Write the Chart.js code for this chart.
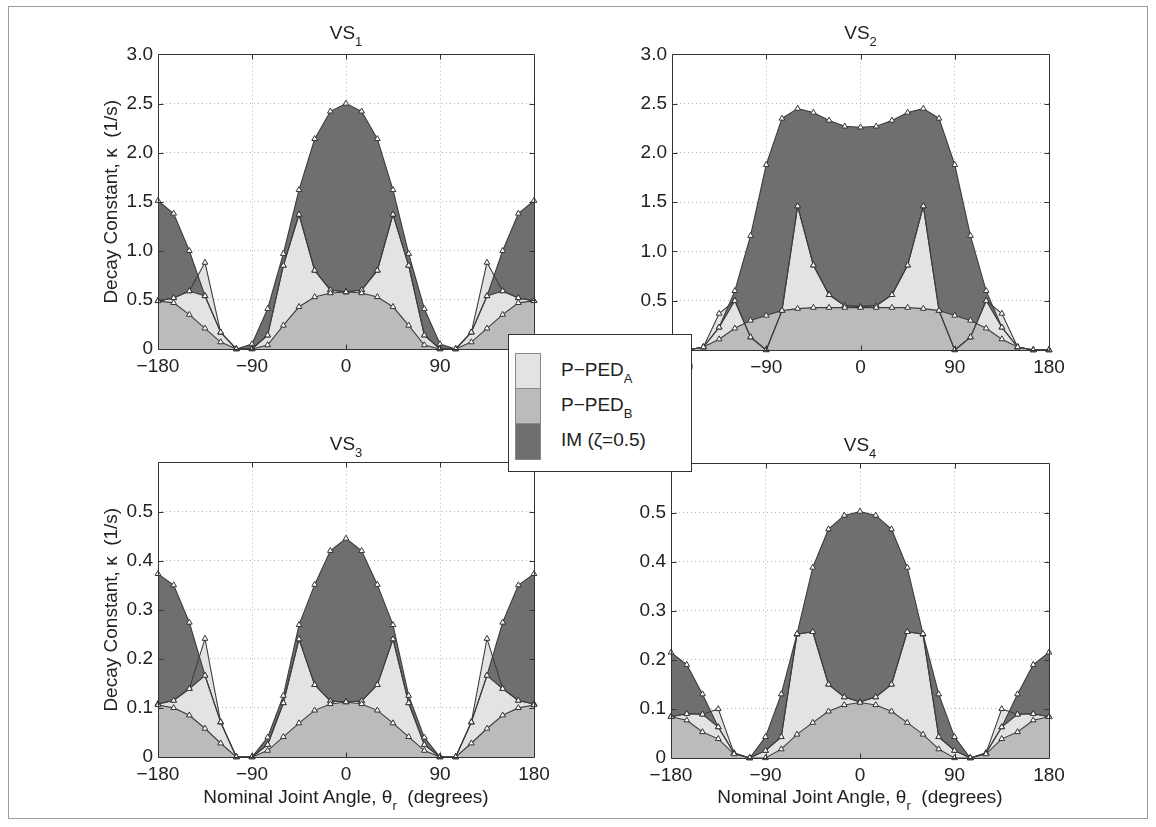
<!DOCTYPE html>
<html>
<head>
<meta charset="utf-8">
<script src="https://cdn.jsdelivr.net/npm/chart.js@4.4.1/dist/chart.umd.min.js"></script>
<style>
  html, body { margin:0; padding:0; background:#fff; }
  body { width:1156px; height:827px; position:relative; overflow:hidden;
         font-family:"Liberation Sans", Arial, Helvetica, sans-serif; color:#222; }
  canvas { position:absolute; }
  .frame { position:absolute; left:8px; top:6px; width:1138px; height:811px; border:1px solid #9c9c9c; }
  .ttl { position:absolute; text-align:center; font-size:19px; line-height:22px; white-space:nowrap; }
  .ttl sub { font-size:13px; vertical-align:-7px; line-height:0; }
  #legend { position:absolute; left:508px; top:334px; width:182px; height:136px;
            border:1px solid #333; background:#fff; z-index:10; }
  .lg-row { position:absolute; left:6px; height:36px; width:170px; }
  .lg-sw { position:absolute; left:0; top:0; width:24px; height:35px; border:1px solid #888; }
  .lg-tx { position:absolute; left:46px; top:6px; font-size:19px; line-height:22px; white-space:nowrap; }
  .lg-tx sub { font-size:13px; vertical-align:-7px; line-height:0; }
</style>
</head>
<body>
<div class="frame"></div>

<canvas id="c1" width="460" height="341" style="left:100px;top:38px"></canvas>
<canvas id="c2" width="455" height="342" style="left:620px;top:38px"></canvas>
<canvas id="c3" width="460" height="343" style="left:100px;top:446px"></canvas>
<canvas id="c4" width="455" height="343" style="left:620px;top:447px"></canvas>

<div class="ttl" style="left:158px;width:376px;top:22px">VS<sub>1</sub></div>
<div class="ttl" style="left:672px;width:377px;top:22px">VS<sub>2</sub></div>
<div class="ttl" style="left:158px;width:376px;top:433px">VS<sub>3</sub></div>
<div class="ttl" style="left:671px;width:378px;top:434px">VS<sub>4</sub></div>

<div class="ttl" style="left:158px;width:376px;top:786px">Nominal Joint Angle, θ<sub>r</sub>&nbsp;&nbsp;(degrees)</div>
<div class="ttl" style="left:671px;width:378px;top:786px">Nominal Joint Angle, θ<sub>r</sub>&nbsp;&nbsp;(degrees)</div>

<div id="legend"></div>

<script>
// ---------------- data ----------------
const angles = [-180,-165,-150,-135,-120,-105,-90,-75,-60,-45,-30,-15,0,15,30,45,60,75,90,105,120,135,150,165,180];
const xTickValues = [-180,-90,0,90,180];
const yTicksLarge = [0,0.5,1,1.5,2,2.5,3];
const yTicksSmall = [0,0.1,0.2,0.3,0.4,0.5];
const seriesNames = ['P\u2212PED', 'P\u2212PED', 'IM (\u03B6=0.5)'];
const seriesSubs  = ['A', 'B', ''];

// VS1
const vs1_pPedA  = [0.49,0.52,0.59,0.88,0.17,0,0,0.14,0.85,1.37,0.80,0.60,0.58,0.60,0.80,1.37,0.85,0.14,0,0,0.17,0.88,0.59,0.52,0.49];
const vs1_pPedB  = [0.49,0.47,0.35,0.21,0.07,0,0,0.04,0.24,0.43,0.53,0.57,0.58,0.57,0.53,0.43,0.24,0.04,0,0,0.07,0.21,0.35,0.47,0.49];
const vs1_imLow  = [0.49,0.52,0.59,0.54,0.17,0,0,0.14,0.85,1.37,0.80,0.60,0.58,0.60,0.80,1.37,0.85,0.14,0,0,0.17,0.54,0.59,0.52,0.49];
const vs1_imHigh = [1.51,1.38,1.00,0.54,0.17,0,0.05,0.41,0.97,1.62,2.14,2.42,2.50,2.42,2.14,1.62,0.97,0.41,0.05,0,0.17,0.54,1.00,1.38,1.51];

// VS2
const vs2_pPedA  = [0,0,0.03,0.37,0.50,0.13,0,0.40,1.46,0.86,0.56,0.45,0.44,0.45,0.56,0.86,1.46,0.40,0,0.13,0.50,0.37,0.03,0,0];
const vs2_pPedB  = [0,0,0.03,0.11,0.22,0.30,0.35,0.40,0.42,0.43,0.43,0.43,0.43,0.43,0.43,0.43,0.42,0.40,0.35,0.30,0.22,0.11,0.03,0,0];
const vs2_imLow  = [0,0,0.03,0.23,0.50,0.13,0,0.40,1.46,0.86,0.56,0.45,0.44,0.45,0.56,0.86,1.46,0.40,0,0.13,0.50,0.23,0.03,0,0];
const vs2_imHigh = [0,0,0.03,0.23,0.60,1.16,1.88,2.35,2.45,2.41,2.33,2.27,2.26,2.27,2.33,2.41,2.45,2.35,1.88,1.16,0.60,0.23,0.03,0,0];

// VS3
const vs3_pPedA  = [0.108,0.115,0.139,0.241,0.071,0,0,0.025,0.110,0.240,0.147,0.114,0.112,0.114,0.147,0.240,0.110,0.025,0,0,0.071,0.241,0.139,0.115,0.108];
const vs3_pPedB  = [0.106,0.100,0.085,0.058,0.028,0,0,0.013,0.041,0.069,0.095,0.108,0.112,0.108,0.095,0.069,0.041,0.013,0,0,0.028,0.058,0.085,0.100,0.106];
const vs3_imLow  = [0.108,0.115,0.139,0.166,0.071,0,0,0.025,0.110,0.240,0.147,0.114,0.112,0.114,0.147,0.240,0.110,0.025,0,0,0.071,0.166,0.139,0.115,0.108];
const vs3_imHigh = [0.373,0.350,0.274,0.166,0.071,0,0,0.040,0.125,0.269,0.351,0.420,0.445,0.420,0.351,0.269,0.125,0.040,0,0,0.071,0.166,0.274,0.350,0.373];

// VS4
const vs4_pPedA  = [0.084,0.090,0.089,0.100,0.010,0,0.015,0.043,0.252,0.257,0.150,0.124,0.114,0.124,0.150,0.257,0.252,0.043,0.015,0,0.010,0.100,0.089,0.090,0.084];
const vs4_pPedB  = [0.084,0.077,0.053,0.039,0.008,0,0,0.018,0.048,0.072,0.095,0.108,0.113,0.108,0.095,0.072,0.048,0.018,0,0,0.008,0.039,0.053,0.077,0.084];
const vs4_imLow  = [0.084,0.090,0.089,0.063,0.010,0,0.015,0.043,0.252,0.257,0.150,0.124,0.114,0.124,0.150,0.257,0.252,0.043,0.015,0,0.010,0.063,0.089,0.090,0.084];
const vs4_imHigh = [0.215,0.190,0.130,0.063,0.010,0,0.043,0.130,0.253,0.388,0.466,0.494,0.502,0.494,0.466,0.388,0.253,0.130,0.043,0,0.010,0.063,0.130,0.190,0.215];

// ---------------- style ----------------
const COL_LIGHT = '#e3e3e3';
const COL_MED   = '#bbbbbb';
const COL_DARK  = '#6f6f6f';
const COL_LINE  = '#3d3d3d';
const FONT = '"Liberation Sans", Arial, Helvetica, sans-serif';

Chart.defaults.font.family = FONT;
Chart.defaults.font.size = 19;
Chart.defaults.color = '#222';

// legend (HTML)
(function(){
  const lg = document.getElementById('legend');
  const cols = [COL_LIGHT, COL_MED, COL_DARK];
  seriesNames.forEach((name, i) => {
    const row = document.createElement('div');
    row.className = 'lg-row';
    row.style.top = (18 + i*35) + 'px';
    const sw = document.createElement('div');
    sw.className = 'lg-sw';
    sw.style.background = cols[i];
    const tx = document.createElement('div');
    tx.className = 'lg-tx';
    tx.textContent = name;
    if (seriesSubs[i]) { const s = document.createElement('sub'); s.textContent = seriesSubs[i]; tx.appendChild(s); }
    row.appendChild(sw); row.appendChild(tx);
    lg.appendChild(row);
  });
})();

const boxPlugin = {
  id: 'matlabBox',
  afterDatasetsDraw(chart) {
    const {ctx, chartArea: a, scales: {x, y}} = chart;
    const L = Math.round(a.left) + 0.5, R = Math.round(a.right) + 0.5;
    const T = Math.round(a.top) + 0.5, B = Math.round(a.bottom) + 0.5;
    ctx.save();
    ctx.strokeStyle = '#333';
    ctx.lineWidth = 1;
    ctx.beginPath();
    ctx.rect(L, T, R - L, B - T);
    ctx.stroke();
    const tl = 5;
    ctx.beginPath();
    x.ticks.forEach(t => {
      if (t.value <= x.min || t.value >= x.max) return;
      const px = Math.round(x.getPixelForValue(t.value)) + 0.5;
      ctx.moveTo(px, B); ctx.lineTo(px, B - tl);
      ctx.moveTo(px, T); ctx.lineTo(px, T + tl);
    });
    y.ticks.forEach(t => {
      if (t.value <= y.min || t.value >= y.max) return;
      const py = Math.round(y.getPixelForValue(t.value)) + 0.5;
      ctx.moveTo(L, py); ctx.lineTo(L + tl, py);
      ctx.moveTo(R, py); ctx.lineTo(R - tl, py);
    });
    ctx.stroke();
    ctx.restore();
  }
};

function pts(arr) { return angles.map((a, i) => ({x: a, y: arr[i]})); }

function makePanel(cfg) {
  const common = {
    borderColor: COL_LINE, borderWidth: 1.1, tension: 0,
    pointStyle: 'triangle', pointRadius: 3.3,
    pointBackgroundColor: '#ffffff', pointBorderColor: '#333', pointBorderWidth: 1,
    clip: 8
  };
  new Chart(document.getElementById(cfg.id), {
    type: 'line',
    data: {
      datasets: [
        Object.assign({label: 'P-PED_B', data: pts(cfg.B), fill: 'origin', backgroundColor: COL_MED, order: 1}, common),
        Object.assign({label: 'IM upper', data: pts(cfg.imHigh), fill: '+1', backgroundColor: COL_DARK, order: 2}, common),
        Object.assign({label: 'IM lower', data: pts(cfg.imLow), fill: false, order: 3}, common),
        Object.assign({label: 'P-PED_A', data: pts(cfg.A), fill: 'origin', backgroundColor: COL_LIGHT, order: 4}, common)
      ]
    },
    options: {
      responsive: false,
      animation: false,
      devicePixelRatio: 1,
      layout: { padding: { left: 0, right: 26, top: 14, bottom: 0 } },
      plugins: {
        legend: { display: false },
        tooltip: { enabled: false },
        filler: { propagate: false, drawTime: 'beforeDatasetsDraw' }
      },
      scales: {
        x: {
          type: 'linear', min: -180, max: 180,
          afterBuildTicks: s => { s.ticks = xTickValues.map(v => ({value: v})); },
          afterFit: s => { s.height = cfg.xh; },
          ticks: {
            autoSkip: false, maxRotation: 0, padding: 6, font: {size: 19}, color: '#222',
            callback: v => (v < 0 ? '\u2212' + Math.abs(v) : String(v))
          },
          grid: { color: '#b4b4b4', lineWidth: 1, drawTicks: false },
          border: { display: false, dash: [1, 3] }
        },
        y: {
          type: 'linear', min: 0, max: cfg.yMax,
          afterBuildTicks: s => { s.ticks = cfg.yTicks.map(v => ({value: v})); },
          afterFit: s => { s.width = cfg.yw; },
          ticks: {
            padding: 5, font: {size: 19}, color: '#222',
            callback: v => (v === 0 ? '0' : v.toFixed(1))
          },
          grid: { color: '#b4b4b4', lineWidth: 1, drawTicks: false },
          border: { display: false, dash: [1, 3] },
          title: {
            display: cfg.yTitle, text: 'Decay Constant, \u03BA  (1/s)',
            font: {size: 19}, color: '#222', padding: {top: 0, bottom: 0}
          }
        }
      }
    },
    plugins: [boxPlugin]
  });
}

makePanel({id: 'c1', A: vs1_pPedA, B: vs1_pPedB, imLow: vs1_imLow, imHigh: vs1_imHigh, yMax: 3,   yTicks: yTicksLarge, yTitle: true,  yw: 58, xh: 30});
makePanel({id: 'c2', A: vs2_pPedA, B: vs2_pPedB, imLow: vs2_imLow, imHigh: vs2_imHigh, yMax: 3,   yTicks: yTicksLarge, yTitle: false, yw: 52, xh: 30});
makePanel({id: 'c3', A: vs3_pPedA, B: vs3_pPedB, imLow: vs3_imLow, imHigh: vs3_imHigh, yMax: 0.6, yTicks: yTicksSmall, yTitle: true,  yw: 58, xh: 32});
makePanel({id: 'c4', A: vs4_pPedA, B: vs4_pPedB, imLow: vs4_imLow, imHigh: vs4_imHigh, yMax: 0.6, yTicks: yTicksSmall, yTitle: false, yw: 51, xh: 32});
</script>
</body>
</html>
